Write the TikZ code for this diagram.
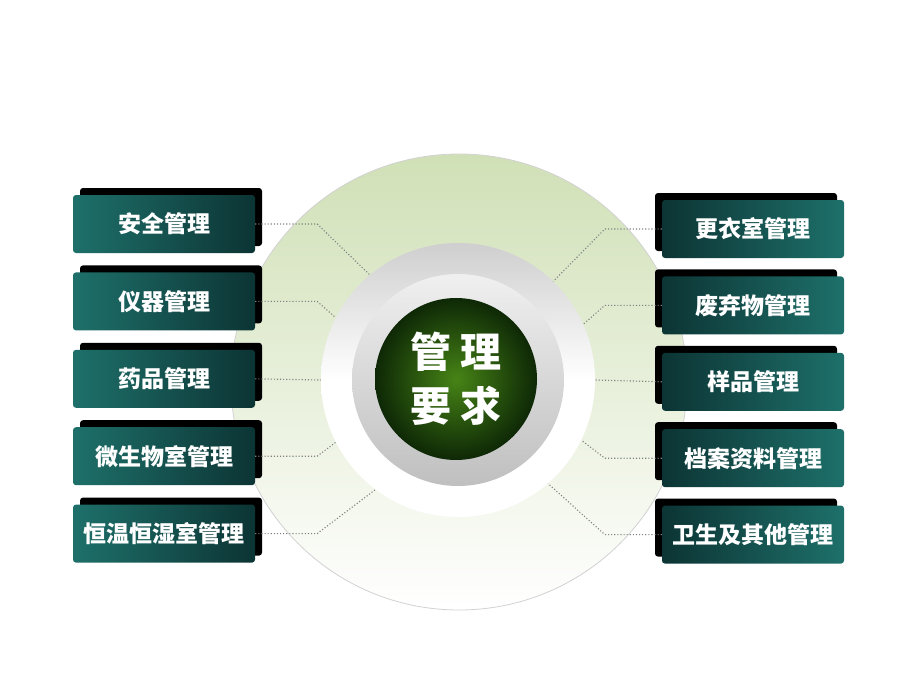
\documentclass[tikz,border=0pt]{standalone}
\usepackage{fontspec}
\newfontfamily\cjk{Noto Sans CJK SC}
\usepackage{tikz}
\usetikzlibrary{shapes,arrows.meta,shadows}
\usetikzlibrary{positioning}

\definecolor{tealL}{RGB}{30,112,106}
\definecolor{tealD}{RGB}{12,52,52}
\definecolor{paleG}{RGB}{208,224,182}
\definecolor{greenC}{RGB}{70,132,22}
\definecolor{greenD}{RGB}{14,40,6}

\tikzset{
  item/.style={rectangle,rounded corners=3pt,minimum width=182pt,minimum height=58pt,
    inner sep=0pt,text=white,font=\cjk\bfseries\fontsize{23}{23}\selectfont},
  litem/.style={item,left color=tealL,right color=tealD,
    general shadow={fill=black,shadow xshift=7pt,shadow yshift=7pt}},
  ritem/.style={item,left color=tealD,right color=tealL,
    general shadow={fill=black,shadow xshift=-7pt,shadow yshift=7pt}},
  link/.style={dotted,gray,line width=1.1pt}
}

\begin{document}
\begin{tikzpicture}[x=1pt,y=-1pt,node distance=19pt]
    \useasboundingbox[fill=white] (0,0) rectangle (920,690);

    % background disc
    \node[circle,draw=gray!35,line width=0.8pt,minimum size=456pt,inner sep=0pt,
          top color=paleG,bottom color=white] (disc) at (459,382) {};

    % silver ring and centre
    \node[circle,minimum size=274pt,inner sep=0pt,top color=gray!38,bottom color=white,
          middle color=white] (ring) at (458,380) {};
    \node[circle,minimum size=212pt,inner sep=0pt,top color=gray!12,bottom color=gray!50]
          (bevel) at (ring.center) {};
    \node[circle,minimum size=162pt,inner sep=0pt,inner color=greenC,outer color=greenD,
          text=white,align=center,font=\cjk\bfseries\fontsize{41}{54}\selectfont]
          (core) at (456,379) {管\hspace{10pt}理\\要\hspace{10pt}求};

    % left column
    \node[litem] (l1) at (164,224) {安全管理};
    \node[litem,below = of l1] (l2) {仪器管理};
    \node[litem,below = of l2] (l3) {药品管理};
    \node[litem,below = of l3] (l4) {微生物室管理};
    \node[litem,below = of l4] (l5) {恒温恒湿室管理};

    % right column
    \node[ritem] (r1) at (753,229) {更衣室管理};
    \node[ritem,below = 18pt of r1] (r2) {废弃物管理};
    \node[ritem,below = 18pt of r2] (r3) {样品管理};
    \node[ritem,below = 18pt of r3] (r4) {档案资料管理};
    \node[ritem,below = 18pt of r4] (r5) {卫生及其他管理};

    \draw[link] (l1.east) -- ++(62,0) -- (ring.130);
    \draw[link] (l2.east) -- ++(62,0) -- (ring.153);
    \draw[link] (l3.east) -- (ring.west);
    \draw[link] (l4.east) -- ++(62,0) -- (ring.207);
    \draw[link] (l5.east) -- ++(62,0) -- (ring.233);

    \draw[link] (r1.west) -- ++(-57,0) -- (ring.46);
    \draw[link] (r2.west) -- ++(-57,0) -- (ring.24);
    \draw[link] (r3.west) -- (ring.east);
    \draw[link] (r4.west) -- ++(-57,0) -- (ring.-26);
    \draw[link] (r5.west) -- ++(-57,0) -- (ring.-49);

    \end{tikzpicture}
\end{document}
